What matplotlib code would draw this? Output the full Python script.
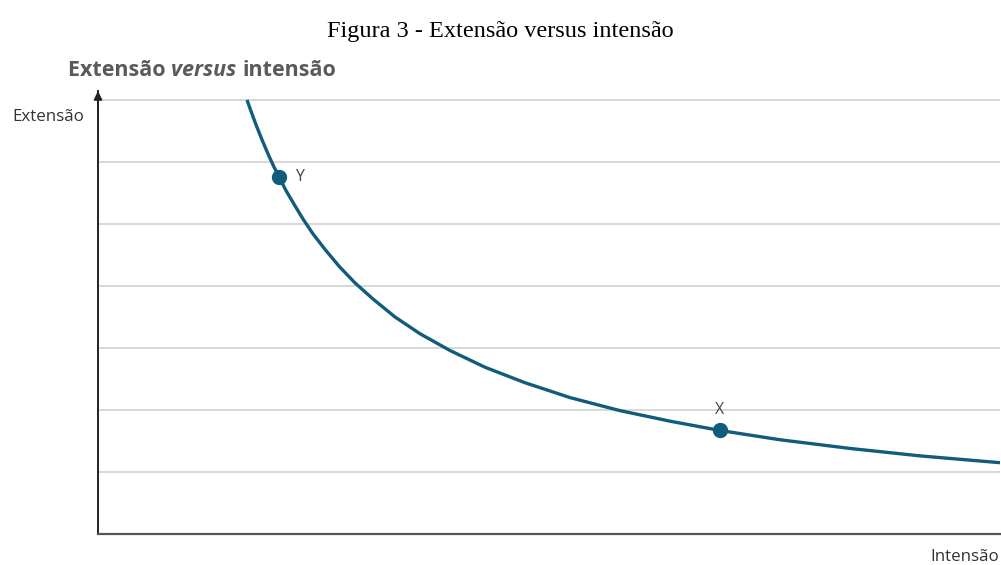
import matplotlib
matplotlib.use("Agg")
import matplotlib.pyplot as plt

# Curve (x: intensão, y: extensão)
curve_x = [16.52, 16.96, 17.52, 18.18, 18.85, 19.51, 20.07, 20.84, 21.73, 22.73,
           23.84, 25.17, 26.72, 28.49, 30.49, 32.93, 35.70, 39.02, 42.90, 47.34,
           52.33, 57.87, 63.41, 68.96, 75.61, 83.37, 91.13, 100.0]
curve_y = [7.00, 6.82, 6.60, 6.36, 6.13, 5.92, 5.76, 5.54, 5.32, 5.08,
           4.84, 4.59, 4.32, 4.05, 3.79, 3.50, 3.23, 2.96, 2.69, 2.44,
           2.20, 1.99, 1.82, 1.67, 1.52, 1.38, 1.26, 1.15]

point_labels = ["Y", "X"]
point_x = [20.07, 68.96]
point_y = [5.76, 1.67]

grid_levels = [1, 2, 3, 4, 5, 6, 7]

W, H = 1001, 565
fig = plt.figure(figsize=(W / 100, H / 100), dpi=100)
fig.patch.set_facecolor("white")

left, right, bottom, top = 98, 1000, 534, 91
ax = fig.add_axes([left / W, 1 - bottom / H, (right - left) / W, (bottom - top) / H])
ax.set_xlim(0, 100)
ax.set_ylim(0, (bottom - top) / 62.0)

for g in grid_levels:
    ax.axhline(g, color="#d4d4d4", lw=1.3, zorder=1)

line_color = "#115b7b"
ax.plot(curve_x, curve_y, color=line_color, lw=2.4, solid_capstyle="butt",
        solid_joinstyle="round", zorder=3)
ax.plot(point_x, point_y, "o", color=line_color, ms=10, zorder=4)

ax.text(point_x[0] + 1.8, point_y[0], point_labels[0], fontsize=11.5, color="#444444",
        family="Open Sans", ha="left", va="center")
ax.text(point_x[1], point_y[1] + 0.33, point_labels[1], fontsize=11.5, color="#444444",
        family="Open Sans", ha="center", va="center")

for s in ["top", "right"]:
    ax.spines[s].set_visible(False)
ax.spines["bottom"].set_color("#555555")
ax.spines["bottom"].set_linewidth(1.6)
ax.spines["left"].set_color("#222222")
ax.spines["left"].set_linewidth(1.4)
ax.set_xticks([])
ax.set_yticks([])

# arrow on top of y axis
ax.annotate("", xy=(0, 1.0), xytext=(0, 0.95), xycoords="axes fraction",
            arrowprops=dict(arrowstyle="-|>", color="#222222", lw=1.4,
                            mutation_scale=12, shrinkA=0, shrinkB=0))

fig.text(500 / W, 1 - 32 / H, "Figura 3 - Extensão versus intensão",
         family="Liberation Serif", fontsize=17.5, ha="center", va="center", color="black")

fig.text(68 / W, 1 - 71 / H, "Extensão ", family="Open Sans", fontweight="bold",
         fontsize=15.5, color="#5a5a5a", ha="left", va="center")
t1 = fig.texts[-1]
fig.canvas.draw()
r = fig.canvas.get_renderer()
bb = t1.get_window_extent(r)
t2 = fig.text(bb.x1 / W, 1 - 71 / H, "versus ", family="Open Sans", fontweight="bold",
              style="italic", fontsize=15.5, color="#5a5a5a", ha="left", va="center")
bb2 = t2.get_window_extent(r)
fig.text(bb2.x1 / W, 1 - 71 / H, "intensão", family="Open Sans", fontweight="bold",
         fontsize=15.5, color="#5a5a5a", ha="left", va="center")

fig.text(12 / W, 1 - 117 / H, "Extensão", family="Open Sans", fontsize=12.2,
         color="#333333", ha="left", va="center")
fig.text(999 / W, 1 - 557 / H, "Intensão", family="Open Sans", fontsize=12.2,
         color="#333333", ha="right", va="center")

fig.savefig("out.png", dpi=100)
